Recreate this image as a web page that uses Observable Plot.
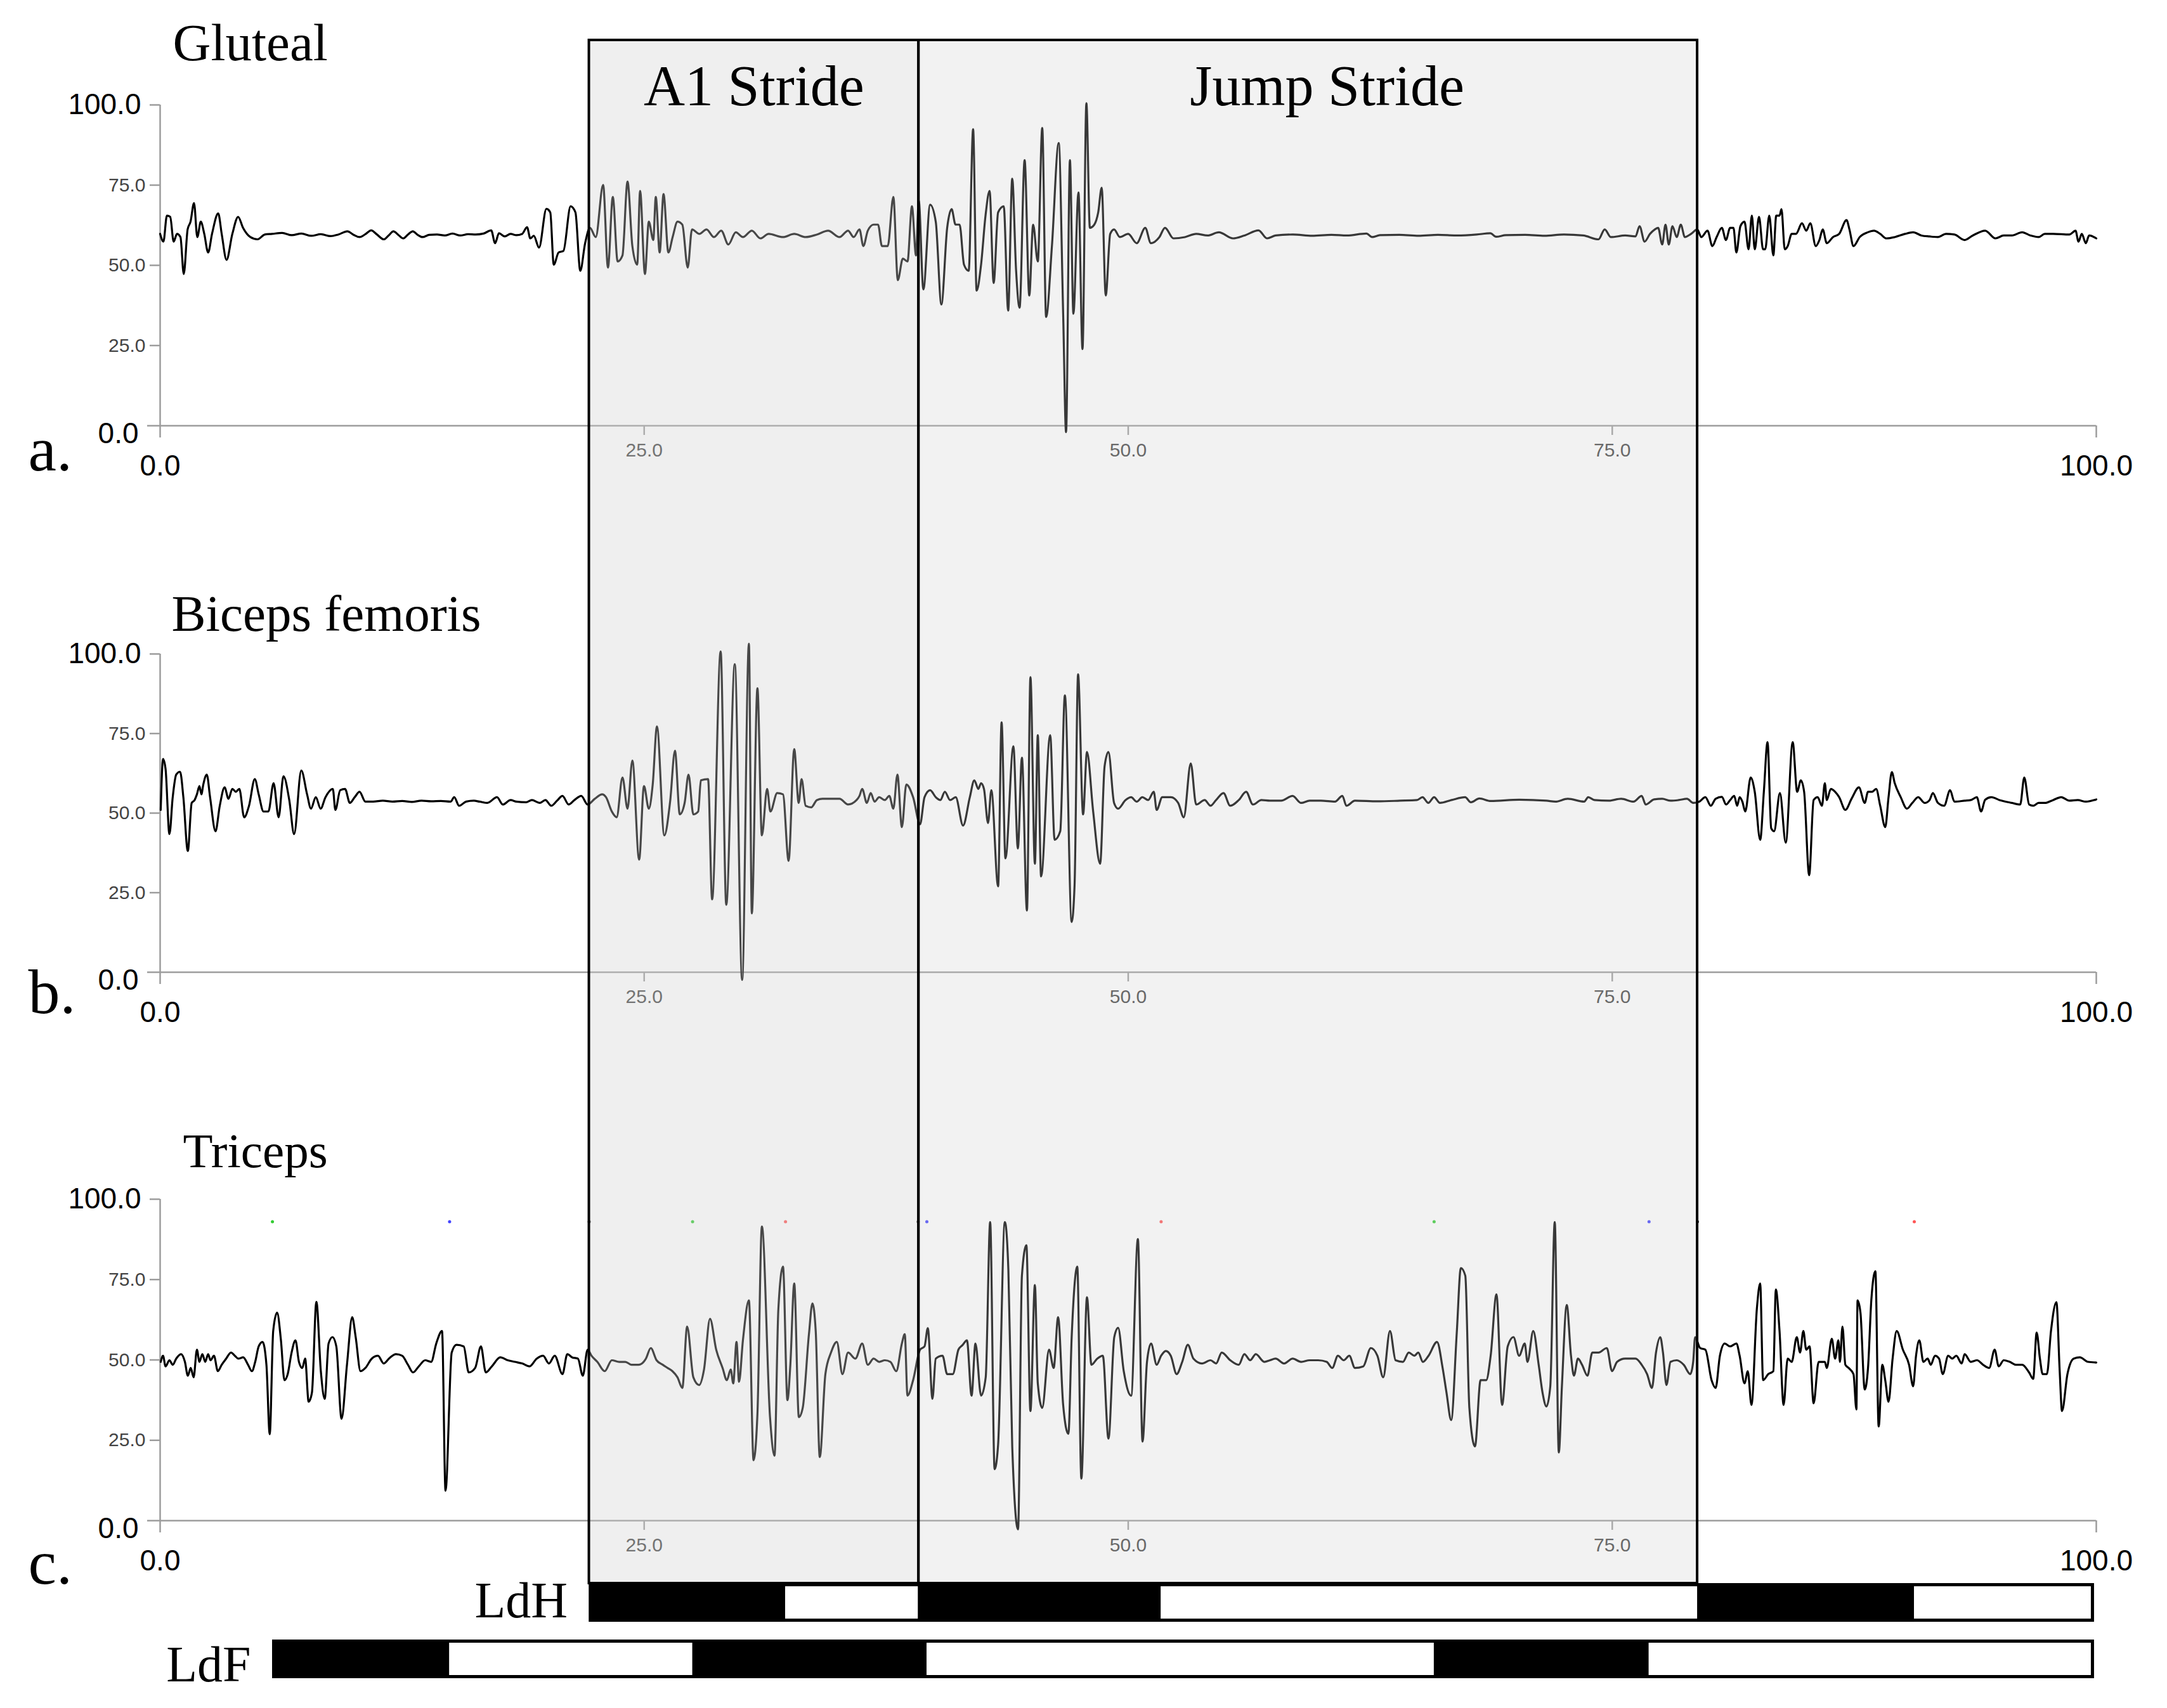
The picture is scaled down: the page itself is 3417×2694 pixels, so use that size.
<!DOCTYPE html>
<html>
<head>
<meta charset="utf-8">
<script src="https://cdn.jsdelivr.net/npm/d3@7"></script>
<script src="https://cdn.jsdelivr.net/npm/@observablehq/plot@0.6"></script>
<style>
html, body { margin: 0; padding: 0; background: #fff; overflow: hidden; }
#fig { position: relative; width: 3417px; height: 2694px; background: #fff; overflow: hidden; }
#fig svg { position: absolute; left: 0; top: 0; }
</style>
</head>
<body>
<div id="fig"></div>
<script>
// ---------------- DATA ----------------
const xTicksSmall = [25, 50, 75];
const xTicksBig = [0, 100];
const yTicksSmall = [25, 50, 75];
const yTickTop = [100];
const yTickBottom = [0];

// [time (% of trial), normalised EMG]
const gluteal = [
[0.0,59.8],[0.17,57.4],[0.35,65.5],[0.52,65.1],[0.7,57.4],[0.87,59.8],[1.05,58.8],[1.22,47.3],[1.42,61.2],[1.57,63.6],[1.75,69.4],[1.92,58.8],[2.1,63.6],[2.28,59.8],[2.48,54.0],[2.68,59.8],[3.0,66.2],[3.18,59.8],[3.43,51.7],[3.73,59.8],[4.03,65.1],[4.28,61.7],[4.66,58.8],[5.03,58.1],[5.41,59.6],[5.78,59.8],
[6.3,60.1],[6.8,59.4],[7.3,59.9],[7.8,59.2],[8.3,59.7],[8.8,59.1],[9.2,59.6],[9.67,60.6],[10.0,59.5],[10.3,58.8],[10.6,59.7],[10.9,60.9],[11.2,59.6],[11.55,58.1],[11.8,59.3],[12.05,60.6],[12.3,59.5],[12.55,58.4],[12.8,59.6],[13.05,60.6],[13.3,59.5],[13.55,58.8],[13.9,59.5],[14.3,59.6],[14.7,59.3],[15.1,59.9],[15.5,59.3],[15.9,59.7],[16.3,59.6],[16.7,59.9],[17.1,60.9],[17.3,56.9],[17.5,60.0],[17.8,59.0],[18.1,59.8],[18.4,59.4],[18.7,59.8],[18.95,61.9],[19.12,58.4],[19.3,59.2],[19.57,55.5],[19.95,67.6],[20.15,66.5],[20.33,50.2],[20.58,54.0],[20.83,54.5],[21.2,68.4],[21.45,66.5],[21.7,48.3],[21.95,56.9],[22.2,61.7],[22.5,58.8],[22.88,75.1],[23.13,49.3],[23.38,71.3],[23.63,51.2],[23.88,53.1],[24.14,76.1],[24.39,56.0],[24.64,50.2],[24.79,73.2],[25.04,47.3],[25.24,63.6],[25.47,57.9],[25.6,71.3],[25.8,54.0],[26.0,72.2],[26.25,54.0],[26.47,58.8],[26.72,63.6],[26.97,62.7],[27.25,49.3],[27.47,61.2],[27.85,59.8],[28.22,61.2],[28.6,58.8],[28.98,60.8],[29.35,56.5],[29.73,60.3],[30.1,58.8],[30.56,60.8],[31.0,58.4],[31.43,59.8],[32.17,58.8],[32.75,59.8],[33.34,58.8],[33.92,59.6],[34.5,60.8],[35.09,58.8],[35.53,60.8],[35.82,58.8],[36.12,61.2],[36.32,56.0],[36.55,60.8],[36.85,62.7],[37.08,62.7],[37.28,56.0],[37.58,56.0],[37.87,71.3],[38.1,45.4],[38.36,52.1],[38.6,51.2],[38.83,68.4],[39.04,53.1],[39.18,70.3],[39.42,42.5],[39.77,68.9],[40.06,63.6],[40.35,37.8],[40.65,61.7],[40.88,67.5],[41.08,62.7],[41.29,62.7],[41.52,50.2],[41.76,48.3],[41.99,92.4],[42.17,42.1],[42.4,50.2],[42.63,65.5],[42.84,73.2],[43.05,44.5],[43.28,66.5],[43.57,68.4],[43.8,35.9],[44.01,77.0],[44.21,48.3],[44.39,36.8],[44.65,82.8],[44.89,40.6],[45.09,62.7],[45.33,51.2],[45.56,92.8],[45.76,33.9],[46.06,56.0],[46.41,88.1],[46.64,34.9],[46.79,-2.0],[46.99,82.8],[47.17,34.9],[47.43,72.7],[47.64,23.9],[47.84,100.5],[48.02,61.7],[48.25,62.7],[48.45,66.5],[48.63,74.2],[48.84,40.6],[49.07,59.8],[49.27,61.2],[49.57,58.8],[50.0,59.8],[50.44,56.9],[50.88,61.7],[51.17,56.9],[51.61,58.8],[51.9,61.7],[52.34,58.4],[52.93,58.8],[53.51,59.8],[54.1,59.3],[54.68,60.3],[55.41,58.4],[56.0,59.3],[56.73,60.9],[57.17,58.4],[57.61,59.3],[58.5,59.6],[59.5,59.2],[60.5,59.5],[61.3,59.3],[62.3,59.9],[62.6,58.8],[63.0,59.4],[64.0,59.5],[65.0,59.2],[66.0,59.5],[67.0,59.3],[68.0,59.6],[68.7,60.0],[69.0,58.9],[69.5,59.4],[70.5,59.5],[71.5,59.2],[72.5,59.6],[73.5,59.3],[74.29,58.1],[74.61,61.2],[74.93,58.8],[75.67,59.3],[76.2,59.0],[76.41,62.2],[76.67,57.4],[76.95,59.8],[77.2,61.2],[77.37,61.7],[77.58,56.5],[77.75,62.7],[77.92,56.5],[78.11,62.2],[78.33,58.8],[78.54,62.7],[78.75,58.8],[79.07,59.8],[79.39,61.2],[79.6,58.8],[79.92,60.8],[80.17,56.0],[80.39,58.8],[80.66,61.7],[80.87,57.9],[81.09,61.7],[81.26,61.7],[81.41,54.0],[81.62,62.2],[81.83,63.6],[82.04,55.0],[82.21,65.5],[82.36,55.0],[82.58,65.1],[82.79,55.0],[82.9,55.0],[83.11,65.5],[83.32,53.1],[83.47,65.5],[83.64,65.5],[83.74,67.5],[83.91,55.0],[84.06,56.0],[84.27,59.8],[84.49,59.8],[84.8,63.1],[85.02,60.8],[85.23,63.1],[85.51,56.0],[85.7,57.9],[85.87,61.2],[86.08,56.9],[86.4,58.8],[86.72,59.8],[87.1,64.1],[87.25,61.2],[87.46,56.0],[87.78,58.8],[88.2,60.3],[88.52,60.8],[88.84,59.8],[89.16,58.4],[89.59,58.8],[90.12,59.8],[90.54,60.3],[90.97,59.3],[91.39,59.0],[91.82,58.8],[92.24,59.8],[92.67,59.6],[93.2,57.9],[93.62,59.3],[94.26,60.8],[94.79,58.4],[95.22,59.3],[95.64,59.3],[96.17,60.3],[96.6,59.3],[97.02,58.8],[97.34,59.8],[97.77,59.8],[98.61,59.6],[98.93,60.8],[99.08,57.4],[99.25,59.8],[99.46,56.9],[99.63,59.3],[100.0,58.4]
];

const bicepsFemoris = [
[0.03,51.0],[0.15,67.0],[0.28,63.9],[0.48,43.4],[0.65,55.0],[0.83,62.1],[1.03,63.0],[1.2,55.0],[1.43,38.1],[1.63,53.2],[1.78,54.1],[1.9,55.9],[2.03,58.5],[2.13,55.9],[2.23,59.0],[2.41,62.1],[2.58,55.0],[2.86,44.3],[3.08,52.3],[3.33,58.1],[3.53,54.5],[3.73,57.6],[3.91,56.7],[4.09,57.6],[4.34,48.7],[4.59,52.3],[4.89,60.7],[5.09,55.9],[5.34,50.5],[5.59,50.5],[5.86,59.4],[6.12,48.7],[6.37,61.6],[6.67,54.1],[6.92,43.4],[7.29,63.4],[7.59,55.9],[7.79,51.4],[8.04,55.0],[8.29,51.4],[8.54,55.0],[8.92,57.6],[9.05,51.0],[9.3,57.2],[9.55,57.6],[9.8,53.2],[10.05,55.0],[10.3,56.7],[10.6,53.6],
[11.0,53.6],[11.5,53.9],[12.0,53.6],[12.5,53.8],[13.0,53.5],[13.5,53.9],[14.0,53.7],[14.5,53.8],[15.0,53.6],[15.19,55.0],[15.44,52.3],[15.8,53.6],[16.2,53.9],[16.5,53.6],[16.9,53.2],[17.4,55.0],[17.7,52.7],[18.1,54.1],[18.4,53.6],[18.9,53.4],[19.2,54.1],[19.6,53.2],[19.9,54.1],[20.2,52.3],[20.5,53.9],[20.78,55.4],[21.1,52.7],[21.4,54.1],[21.75,55.4],[22.08,52.7],[22.45,54.5],[22.83,55.9],[23.03,55.0],[23.33,50.5],[23.58,48.7],[23.88,61.2],[24.14,51.4],[24.39,66.5],[24.74,35.4],[24.99,58.5],[25.24,51.4],[25.44,58.9],[25.66,77.2],[26.04,43.0],[26.34,53.6],[26.59,69.6],[26.84,49.6],[27.09,53.2],[27.29,62.1],[27.54,49.6],[27.79,50.5],[27.93,60.3],[28.3,60.7],
[28.51,22.9],[28.95,100.8],[29.24,21.2],[29.68,96.8],[30.06,-2.4],[30.41,103.2],[30.56,18.5],[30.85,89.2],[31.08,43.0],[31.35,57.6],[31.52,50.5],[31.87,56.3],[32.17,55.9],[32.46,35.0],[32.75,70.1],[32.98,53.2],[33.13,60.7],[33.34,52.3],[33.63,51.8],[33.92,54.1],[34.21,54.5],[34.65,54.5],[35.09,54.5],[35.53,52.7],[35.97,54.1],[36.12,55.4],[36.26,57.6],[36.5,53.2],[36.7,56.3],[36.9,53.6],[37.14,55.0],[37.43,54.1],[37.66,55.4],[37.87,51.4],[38.08,62.1],[38.31,45.6],[38.54,59.0],[38.89,55.0],[39.25,46.5],[39.48,55.0],[39.77,57.2],[40.06,55.0],[40.3,54.1],[40.53,56.7],[40.8,54.1],[41.09,55.0],[41.47,46.1],[41.82,55.0],[42.05,60.3],[42.26,57.6],[42.4,59.4],[42.55,57.6],[42.76,46.9],[42.93,57.2],[43.28,27.0],[43.46,78.5],[43.66,35.8],[44.07,71.0],[44.3,38.9],[44.51,67.4],[44.77,19.4],[44.95,92.7],[45.18,34.1],[45.33,74.5],[45.5,30.1],[45.97,74.5],[46.2,41.6],[46.49,44.3],[46.73,87.0],[47.08,15.8],[47.23,27.4],[47.41,93.6],[47.67,49.6],[47.87,69.2],[48.19,50.5],[48.55,34.1],[48.78,64.7],[48.98,69.2],[49.27,53.2],[49.48,51.4],[49.86,54.1],[50.15,55.0],[50.44,53.6],[50.73,55.0],[51.03,54.1],[51.32,56.7],[51.47,51.0],[51.76,55.0],[52.2,55.0],[52.58,53.2],[52.87,48.7],[53.23,65.6],[53.51,52.7],[53.95,54.1],[54.25,52.3],[54.54,54.1],[54.92,56.3],[55.27,52.3],[55.71,54.1],[56.09,56.7],[56.44,52.7],[56.88,54.1],[57.32,53.9],[57.9,53.9],[58.49,55.4],[58.93,53.2],[59.37,53.9],[59.95,53.9],[60.68,53.6],[61.06,55.4],[61.27,52.3],[61.71,53.9],[62.87,53.7],[64.04,53.9],[64.91,54.1],[65.2,55.0],[65.5,53.2],[65.8,55.0],[66.1,53.2],[66.7,54.1],[67.4,55.0],[67.7,53.4],[68.14,54.6],[68.72,53.8],[70.2,54.2],[71.6,53.9],
[72.06,53.6],[72.7,54.5],[73.55,53.6],[73.76,55.0],[74.08,54.1],[74.82,53.9],[75.46,54.5],[76.1,53.6],[76.52,55.4],[76.73,52.7],[77.16,54.3],[77.58,54.5],[78.01,53.9],[78.43,54.1],[78.86,54.5],[79.18,53.2],[79.49,53.6],[79.81,55.0],[80.09,52.3],[80.34,54.5],[80.66,55.1],[80.88,52.7],[81.09,54.1],[81.3,55.4],[81.45,52.3],[81.58,55.0],[81.72,53.6],[81.87,50.5],[82.15,61.2],[82.36,56.7],[82.64,41.6],[82.83,56.7],[83.02,72.3],[83.21,45.2],[83.36,44.3],[83.66,56.3],[83.96,40.7],[84.32,72.3],[84.55,56.7],[84.74,60.3],[84.91,56.7],[85.17,30.5],[85.4,54.1],[85.61,55.0],[85.83,52.3],[85.98,59.4],[86.08,54.1],[86.29,57.6],[86.51,56.7],[86.72,55.0],[87.04,51.0],[87.36,54.5],[87.74,58.1],[88.04,53.2],[88.21,56.7],[88.42,56.7],[88.63,57.6],[88.84,52.3],[89.1,45.6],[89.27,55.0],[89.44,62.9],[89.59,59.4],[89.9,55.0],[90.22,51.4],[90.5,53.2],[90.8,55.0],[91.14,53.2],[91.39,54.1],[91.56,56.3],[91.82,53.2],[92.14,52.3],[92.45,57.2],[92.67,53.6],[93.2,53.9],[93.52,54.1],[93.83,55.0],[94.05,50.5],[94.26,54.2],[94.58,55.0],[95.0,54.1],[95.64,53.2],[96.07,52.7],[96.28,61.2],[96.53,52.7],[96.74,52.3],[97.02,53.2],[97.34,53.2],[97.77,54.1],[98.19,55.0],[98.61,53.9],[99.04,54.1],[99.46,53.6],[100.0,54.3]
];

const triceps = [
[0.03,49.4],[0.15,51.3],[0.28,48.0],[0.48,49.9],[0.65,48.5],[0.83,50.4],[1.08,51.8],[1.28,49.4],[1.43,45.1],[1.58,47.5],[1.73,44.6],[1.9,53.2],[2.03,49.4],[2.18,51.8],[2.33,49.4],[2.48,51.8],[2.6,49.9],[2.78,51.3],[2.98,46.5],[3.18,48.5],[3.41,50.4],[3.66,52.3],[3.86,51.3],[4.04,50.4],[4.29,50.8],[4.54,48.5],[4.74,46.5],[4.91,49.4],[5.09,54.2],[5.29,55.6],[5.49,48.5],[5.66,26.9],[5.84,59.0],[6.04,64.7],[6.24,56.1],[6.42,43.7],[6.59,45.6],[6.79,52.3],[6.99,56.1],[7.17,49.4],[7.34,47.5],[7.49,50.4],[7.67,37.0],[7.84,39.8],[8.07,68.1],[8.3,46.5],[8.5,37.9],[8.7,55.1],[8.9,57.1],[9.1,54.2],[9.37,31.7],[9.65,48.5],[9.92,63.3],[10.1,57.1],[10.35,46.5],[10.6,47.5],[10.93,50.4],[11.25,51.3],[11.55,48.9],[11.85,50.6],[12.18,51.8],[12.5,51.3],[12.8,48.5],[13.06,46.1],[13.36,48.0],[13.69,49.9],[14.0,49.4],[14.26,55.1],[14.56,59.0],[14.74,9.3],[15.06,52.3],[15.31,54.7],[15.68,54.2],[15.94,46.1],[16.27,47.5],[16.57,54.2],[16.82,46.1],[17.12,47.9],[17.57,50.8],[17.95,49.9],[18.32,49.4],[18.7,48.9],[19.08,48.0],[19.45,50.4],[19.78,51.3],[20.08,48.9],[20.38,51.3],[20.78,45.6],[21.03,51.8],[21.28,50.8],[21.58,50.4],[21.83,45.1],[22.08,53.2],[22.28,51.3],[22.58,49.4],[22.96,46.5],[23.33,49.9],[23.71,49.4],[24.03,49.4],[24.34,48.5],[24.71,48.5],[25.09,50.4],[25.34,53.7],[25.64,49.9],[25.96,48.5],[26.21,47.5],[26.46,46.5],[26.72,44.6],[26.97,41.3],[27.22,60.4],[27.54,44.6],[27.84,42.2],[28.09,47.0],[28.4,62.8],[28.72,53.2],[29.05,47.5],[29.27,43.7],[29.47,47.0],[29.6,42.7],[29.77,55.6],[29.9,43.2],[30.1,56.1],[30.41,68.5],[30.65,18.8],[30.85,33.2],[31.08,91.5],
[31.5,32.2],[31.73,20.2],[31.93,65.7],[32.17,79.0],[32.4,37.5],[32.55,48.5],[32.75,73.8],[32.99,32.2],[33.19,35.1],[33.51,58.0],[33.69,67.6],[33.86,59.0],[34.07,19.8],[34.36,45.6],[34.65,52.3],[34.95,55.6],[35.24,45.6],[35.53,52.3],[35.91,50.4],[36.26,55.1],[36.55,48.5],[36.85,50.4],[37.14,49.4],[37.43,49.9],[37.72,49.4],[38.02,46.5],[38.31,55.1],[38.46,58.0],[38.6,38.9],[38.89,43.7],[39.25,53.2],[39.48,54.2],[39.65,59.9],[39.89,37.9],[40.06,50.4],[40.41,51.3],[40.65,45.6],[40.94,45.6],[41.23,53.2],[41.44,54.6],[41.67,56.1],[41.91,38.9],[42.11,55.1],[42.4,38.9],[42.64,44.6],[42.87,92.9],[43.1,16.0],[43.28,23.6],[43.63,92.9],[43.81,78.1],[44.01,23.1],[44.31,-2.7],[44.51,76.2],[44.74,85.7],[44.95,34.1],[45.18,73.3],[45.33,42.7],[45.56,35.1],[45.91,53.2],[46.15,47.5],[46.38,63.3],[46.64,36.0],[46.91,27.0],[47.08,57.1],[47.37,79.0],[47.58,13.1],[47.87,69.5],[48.1,48.5],[48.4,50.4],[48.69,51.3],[48.98,25.5],[49.28,57.1],[49.48,60.0],[49.77,46.5],[50.15,38.9],[50.5,87.6],[50.74,24.6],[50.97,49.4],[51.18,55.1],[51.47,48.5],[51.7,51.3],[51.94,52.8],[52.2,51.3],[52.5,45.6],[52.79,49.4],[53.08,54.7],[53.37,50.4],[53.81,48.9],[54.25,49.9],[54.54,48.9],[54.83,52.3],[55.27,49.9],[55.71,48.5],[56.0,51.8],[56.3,49.9],[56.59,51.8],[57.03,49.4],[57.32,49.9],[57.61,50.4],[58.05,48.9],[58.49,50.4],[58.93,49.4],[59.37,49.9],[59.81,49.9],[60.25,49.4],[60.54,47.5],[60.83,51.3],[61.13,49.9],[61.42,51.3],[61.71,47.5],[62.14,48.0],[62.53,53.7],[62.87,51.3],[63.17,44.6],[63.52,59.0],[63.81,49.9],[64.19,49.4],[64.49,52.3],[64.78,51.3],[64.98,52.3],[65.22,49.4],[65.51,51.3],[65.95,55.6],[66.24,47.5],[66.44,39.8],[66.68,31.3],[66.97,58.5],[67.18,78.6],[67.41,76.2],[67.62,35.1],[67.91,23.1],[68.2,43.7],[68.49,43.7],[68.72,51.3],[69.02,70.4],[69.31,36.0],[69.6,54.2],[69.9,57.1],[70.19,51.3],[70.48,55.1],[70.62,49.4],[70.92,59.0],[71.2,48.5],[71.4,39.8],[71.6,35.5],[71.8,41.8],[72.03,92.9],[72.24,21.2],[72.4,41.8],[72.65,67.1],[72.87,51.3],[73.02,45.1],[73.23,50.4],[73.44,48.5],[73.72,45.1],[73.97,52.3],[74.29,52.3],[74.72,53.7],[74.99,46.5],[75.25,49.4],[75.67,50.4],[76.2,50.4],[76.52,48.5],[76.8,45.6],[77.05,41.3],[77.26,52.3],[77.48,57.1],[77.62,52.3],[77.8,42.2],[78.01,49.4],[78.33,49.9],[78.69,48.5],[79.03,45.6],[79.18,49.4],[79.28,57.1],[79.54,53.7],[79.81,53.2],[80.13,43.7],[80.34,41.3],[80.56,51.3],[80.81,55.1],[81.09,54.2],[81.41,55.1],[81.58,51.3],[81.83,42.7],[82.0,46.5],[82.19,36.0],[82.47,66.0],[82.64,73.8],[82.79,43.7],[83.06,45.6],[83.32,46.5],[83.45,71.9],[83.64,59.0],[83.85,36.0],[84.06,50.4],[84.27,49.4],[84.53,57.1],[84.7,52.3],[84.87,59.0],[85.02,53.2],[85.19,54.2],[85.4,36.5],[85.66,49.4],[85.98,49.4],[86.08,47.5],[86.34,56.6],[86.51,50.4],[86.68,56.1],[86.76,49.4],[86.89,60.4],[87.04,48.5],[87.21,47.5],[87.46,45.6],[87.61,34.6],[87.67,68.5],[87.82,64.7],[88.04,40.8],[88.21,47.5],[88.38,68.5],[88.59,77.6],[88.76,29.3],[88.95,48.5],[89.1,43.7],[89.27,37.0],[89.48,50.4],[89.69,59.0],[90.01,53.2],[90.33,48.5],[90.54,41.8],[90.69,51.3],[90.86,56.1],[91.07,49.4],[91.29,50.4],[91.45,48.5],[91.67,51.3],[91.88,50.4],[92.07,45.6],[92.35,51.3],[92.56,50.4],[92.77,51.3],[93.05,48.9],[93.2,51.8],[93.52,49.4],[93.84,49.9],[94.15,48.5],[94.47,47.5],[94.75,53.2],[94.96,48.0],[95.22,49.9],[95.53,49.4],[95.85,48.5],[96.17,48.5],[96.53,46.1],[96.74,44.1],[96.92,58.5],[97.09,50.4],[97.23,45.6],[97.45,45.6],[97.66,59.0],[97.94,68.0],[98.11,46.5],[98.23,34.1],[98.51,45.6],[98.83,50.4],[99.15,50.8],[99.57,49.4],[100.0,49.2]
];

const muscleNames = ["Gluteal", "Biceps femoris", "Triceps"];
const panelTags = ["a.", "b.", "c."];

const strides = [
  {name: "A1 Stride", start: 22.16, end: 39.18},
  {name: "Jump Stride", start: 39.18, end: 79.4}
];

const limbs = ["LdH", "LdF"];
const ldhPhases = [
  {start: 22.16, end: 32.3, stance: true},
  {start: 32.3, end: 39.15, stance: false},
  {start: 39.15, end: 51.7, stance: true},
  {start: 51.7, end: 79.4, stance: false},
  {start: 79.4, end: 90.6, stance: true},
  {start: 90.6, end: 99.9, stance: false}
];
const ldfPhases = [
  {start: 5.8, end: 14.95, stance: true},
  {start: 14.95, end: 27.5, stance: false},
  {start: 27.5, end: 39.6, stance: true},
  {start: 39.6, end: 65.8, stance: false},
  {start: 65.8, end: 76.9, stance: true},
  {start: 76.9, end: 99.9, stance: false}
];
const eventMarkerLevel = 93;

// ---------------- LAYOUT / STYLE ----------------
const W = 3417, H = 2694;
const FRAME_LEFT = 252, FRAME_RIGHT = 3305;
const SANS = '"Liberation Sans", Arial, Helvetica, sans-serif';
const SERIF = '"Liberation Serif", "Times New Roman", serif';
const AXIS = "#9c9c9c";
const panelLayout = [
  {top: 165, bottom: 671, titleDx: 20, titleDy: -71, titleSize: 83, tagDy: 70},
  {top: 1031, bottom: 1533, titleDx: 18, titleDy: -37, titleSize: 81, tagDy: 64},
  {top: 1891, bottom: 2398, titleDx: 36, titleDy: -51, titleSize: 77, tagDy: 99}
];
const strideShade = {"A1 Stride": 0.34, "Jump Stride": 0.27};
const strideLabelDx = {"A1 Stride": 0, "Jump Stride": 30};
const eventColor = {hindOn: "#333333", hindOff: "#ff5555", foreOn: "#33cc33", foreOff: "#4444ff"};
const fmt = d => d.toFixed(1);
const layerStyle = {background: "transparent", overflow: "visible", position: "absolute", left: "0px", top: "0px", maxWidth: "none"};

const fig = document.getElementById("fig");

const events = [
  ...ldhPhases.filter(p => p.stance).flatMap(p => [{x: p.start, kind: "hindOn"}, {x: p.end, kind: "hindOff"}]),
  ...ldfPhases.filter(p => p.stance).flatMap(p => [{x: p.start, kind: "foreOn"}, {x: p.end, kind: "foreOff"}])
];

// ---------------- PANELS ----------------
const seriesList = [gluteal, bicepsFemoris, triceps];
seriesList.forEach((series, i) => {
  const L = panelLayout[i];
  const data = series.map(([x, y]) => ({x, y}));
  const marks = [
    Plot.ruleY([0], {stroke: AXIS, strokeWidth: 2.5, insetLeft: -20}),
    Plot.ruleX([0], {stroke: AXIS, strokeWidth: 2.5}),
    Plot.axisY({ticks: yTicksSmall, tickFormat: fmt, tickSize: 16, tickPadding: 7, stroke: AXIS, strokeWidth: 2.5, color: "#444", fontSize: 30, fontFamily: SANS, label: null}),
    Plot.axisY({ticks: yTickTop, tickFormat: fmt, tickSize: 16, tickPadding: 14, stroke: AXIS, strokeWidth: 2.5, color: "#000", fontSize: 46, fontFamily: SANS, label: null}),
    Plot.text(yTickBottom, {y: d => d, text: fmt, frameAnchor: "left", dx: -34, dy: 13, textAnchor: "end", fill: "#000", fontSize: 46, fontFamily: SANS}),
    Plot.axisX({ticks: xTicksSmall, tickFormat: fmt, tickSize: 15, tickPadding: 12, stroke: AXIS, strokeWidth: 2.5, color: "#444", fontSize: 30, fontFamily: SANS, label: null}),
    Plot.axisX({ticks: xTicksBig, tickFormat: fmt, tickSize: 19, tickPadding: 27, stroke: AXIS, strokeWidth: 2.5, color: "#000", fontSize: 46, fontFamily: SANS, label: null}),
    Plot.line(data, {x: "x", y: "y", stroke: "#000", strokeWidth: 3.2, strokeLinejoin: "round", curve: "monotone-x"}),
    Plot.text([muscleNames[i]], {frameAnchor: "top-left", dx: L.titleDx, dy: L.titleDy, lineAnchor: "bottom", textAnchor: "start", fill: "#000", fontSize: L.titleSize, fontFamily: SERIF}),
    Plot.text([panelTags[i]], {frameAnchor: "bottom-left", dx: -208, dy: L.tagDy, lineAnchor: "bottom", textAnchor: "start", fill: "#000", fontSize: 100, fontFamily: SERIF})
  ];
  if (i === 2) {
    marks.push(Plot.dot(events, {x: "x", y: () => eventMarkerLevel, r: 2.5, fill: d => eventColor[d.kind], stroke: "none"}));
  }
  const svg = Plot.plot({
    width: W, height: H,
    marginLeft: FRAME_LEFT, marginRight: W - FRAME_RIGHT,
    marginTop: L.top, marginBottom: H - L.bottom,
    x: {domain: [0, 100]},
    y: {domain: [0, 100]},
    color: {type: "identity"},
    style: layerStyle,
    marks
  });
  fig.appendChild(svg);
});

// ---------------- STRIDE BOXES (overlay) ----------------
const boxes = Plot.plot({
  width: W, height: H,
  marginLeft: FRAME_LEFT, marginRight: W - FRAME_RIGHT,
  marginTop: 63, marginBottom: H - 2497,
  x: {domain: [0, 100], axis: null},
  y: {domain: [0, 1], axis: null},
  style: layerStyle,
  marks: [
    Plot.rect(strides, {x1: "start", x2: "end", fill: "#cfcfcf", fillOpacity: d => strideShade[d.name]}),
    Plot.rect(strides, {x1: "start", x2: "end", fill: "none", stroke: "#000", strokeWidth: 4}),
    ...strides.map(s => Plot.text([s], {x: d => (d.start + d.end) / 2, text: "name", frameAnchor: "top", dx: strideLabelDx[s.name], dy: 102, lineAnchor: "bottom", textAnchor: "middle", fill: "#000", fontSize: 90, fontFamily: SERIF}))
  ]
});
fig.appendChild(boxes);

// ---------------- FOOTFALL BARS ----------------
const phases = [
  ...ldhPhases.map(p => ({...p, limb: "LdH"})),
  ...ldfPhases.map(p => ({...p, limb: "LdF"}))
];
const extents = limbs.map(limb => {
  const ps = phases.filter(p => p.limb === limb);
  return {limb, start: d3.min(ps, p => p.start), end: d3.max(ps, p => p.end)};
});
const labelDy = {LdH: 23, LdF: 35};
const bars = Plot.plot({
  width: W, height: H,
  marginLeft: FRAME_LEFT, marginRight: W - FRAME_RIGHT,
  marginTop: 2497, marginBottom: H - 2647,
  x: {domain: [0, 100], axis: null},
  y: {domain: limbs, paddingInner: 0.315, paddingOuter: 0, round: false, axis: null},
  color: {type: "identity"},
  style: layerStyle,
  marks: [
    Plot.barX(phases, {x1: "start", x2: "end", y: "limb", fill: d => d.stance ? "#000000" : "#ffffff"}),
    Plot.barX(extents, {x1: "start", x2: "end", y: "limb", fill: "none", stroke: "#000", strokeWidth: 5, inset: 2.5}),
    ...limbs.map(limb => Plot.text(extents.filter(e => e.limb === limb), {x: "start", y: "limb", text: "limb", dx: -34, dy: labelDy[limb], lineAnchor: "bottom", textAnchor: "end", fill: "#000", fontSize: 80, fontFamily: SERIF}))
  ]
});
fig.appendChild(bars);
</script>
</body>
</html>
